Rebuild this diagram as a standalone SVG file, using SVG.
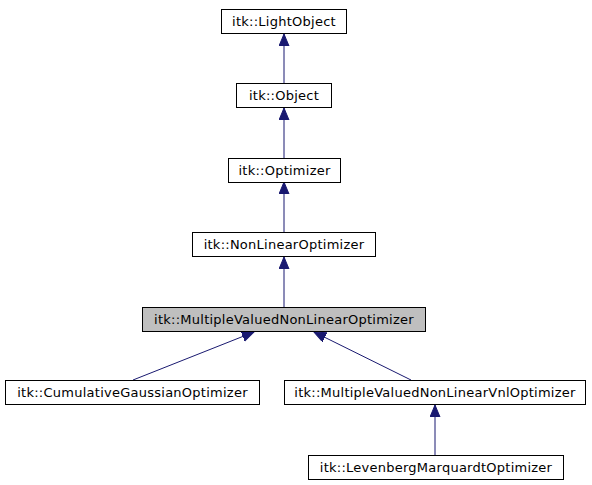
<svg xmlns="http://www.w3.org/2000/svg" width="592" height="485" viewBox="0 0 592 485">
<style>
.n rect{fill:#fff;stroke:#000;stroke-width:1}
.n.h rect{fill:#bfbfbf}
.n text{font-family:"DejaVu Sans",sans-serif;font-size:13px;letter-spacing:0.25px;text-anchor:middle;fill:#000}
.e line{stroke:#191970;stroke-width:1;marker-end:url(#a)}
</style>
<defs>
<marker id="a" markerUnits="userSpaceOnUse" markerWidth="13" markerHeight="11" refX="12" refY="5" orient="auto" viewBox="0 0 13 11">
<path d="M0,0 L12,5 L0,10 z" fill="#191970" stroke="#191970"/>
</marker>
</defs>
<rect width="592" height="485" fill="#fff"/>
<g id="edges" class="e">
<line x1="284" y1="83" x2="284" y2="34"/>
<line x1="284" y1="158" x2="284" y2="108"/>
<line x1="284" y1="232" x2="284" y2="182"/>
<line x1="284" y1="307" x2="284" y2="257"/>
<line x1="133" y1="380" x2="254" y2="332"/>
<line x1="411" y1="380" x2="314" y2="332"/>
<line x1="435" y1="455" x2="435" y2="405"/>
</g>
<g id="LightObject" class="n"><rect x="221.5" y="9.5" width="125" height="24"/><text x="284" y="26">itk::LightObject</text></g>
<g id="Object" class="n"><rect x="236.5" y="83.5" width="95" height="24"/><text x="284" y="100">itk::Object</text></g>
<g id="Optimizer" class="n"><rect x="228.5" y="158.5" width="112" height="24"/><text x="284.5" y="175">itk::Optimizer</text></g>
<g id="NonLinearOptimizer" class="n"><rect x="192.5" y="232.5" width="183" height="24"/><text x="284" y="249">itk::NonLinearOptimizer</text></g>
<g id="MultipleValuedNonLinearOptimizer" class="n h"><rect x="142.5" y="307.5" width="283" height="24"/><text x="284" y="324">itk::MultipleValuedNonLinearOptimizer</text></g>
<g id="CumulativeGaussianOptimizer" class="n"><rect x="5.5" y="380.5" width="254" height="24"/><text x="132.5" y="397">itk::CumulativeGaussianOptimizer</text></g>
<g id="MultipleValuedNonLinearVnlOptimizer" class="n"><rect x="284.5" y="380.5" width="301" height="24"/><text x="435" y="397">itk::MultipleValuedNonLinearVnlOptimizer</text></g>
<g id="LevenbergMarquardtOptimizer" class="n"><rect x="308.5" y="455.5" width="255" height="24"/><text x="436" y="472">itk::LevenbergMarquardtOptimizer</text></g>
</svg>
